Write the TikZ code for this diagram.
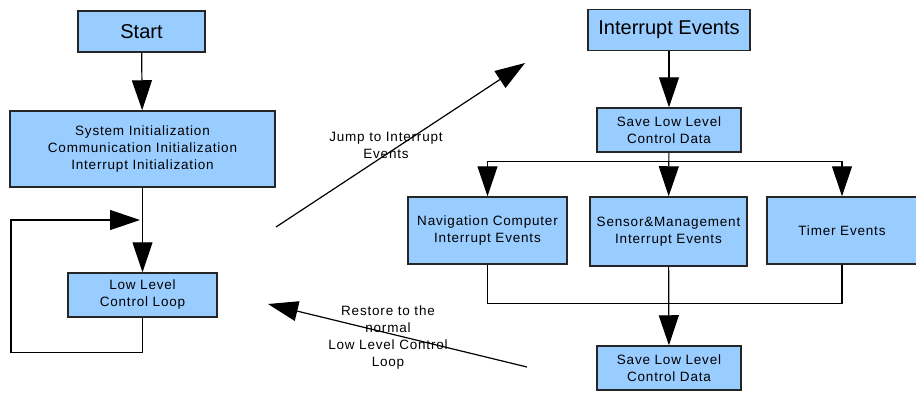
\documentclass[tikz,border=0pt]{standalone}
\usepackage{fontspec}
\setmainfont{Liberation Sans}
\newfontfamily\labelfont[LetterSpace=6]{Liberation Sans}
\usetikzlibrary{arrows.meta}
\definecolor{boxblue}{HTML}{99CCFF}
\tikzset{
>={Triangle[width=20pt,length=30pt]}, % big filled heads
box/.style={draw=black!85, fill=boxblue, line width=1.5pt, inner sep=0pt, align=center,
  font=\labelfont\fontsize{13.5}{17}\selectfont},
bigbox/.style={box, font=\fontsize{20}{22}\selectfont},
note/.style={align=center, font=\labelfont\fontsize{13.5}{17}\selectfont},
}

\begin{document}
\begin{tikzpicture}[x=1pt, y=-1pt, line width=1.2pt]
    \useasboundingbox (0,0) rectangle (916,392);

    % main program
    \node[bigbox, minimum width=127, minimum height=41] (start) at (141.5,31.5) {Start};
    \node[box, minimum width=265, minimum height=76] (init) at (142.5,149)
        {System Initialization\\Communication Initialization\\Interrupt Initialization};
    \node[box, minimum width=149, minimum height=44] (loop) at (142.5,295) {Low Level\\Control Loop};
    \coordinate (loopin) at (140,220);

    % interrupt side
    \node[bigbox, minimum width=162, minimum height=41] (irq) at (669,30) {Interrupt Events};
    \node[box, minimum width=144, minimum height=44] (save1) at (669,130) {Save Low Level\\Control Data};
    \node[box, minimum width=159, minimum height=67] (nav) at (487.5,230.5) {Navigation Computer\\Interrupt Events};
    \node[box, minimum width=157, minimum height=69] (sensor) at (668.5,231.5) {Sensor\&Management\\Interrupt Events};
    \node[box, minimum width=150, minimum height=67] (timer) at (842,230.5) {Timer Events};
    \node[box, minimum width=144, minimum height=44] (save2) at (669,368) {Save Low Level\\Control Data};

    % jump and return
    \coordinate (jumpfrom) at (276,227);
    \coordinate (jumpto) at (525,63);
    \coordinate (backfrom) at (527,367);
    \coordinate (backto) at (268,304);

    \draw[->] (start) -- (init);
    \draw[->] (init) -- (loop);
    \draw[->] (loop.south) -- ++(0,35) -| (11,250) |- (loopin);

    \draw[->] (irq) -- (save1);
    \draw[->] (save1) -- (sensor);
    \draw[->] (save1.south) ++(0,9) -| (nav.north);
    \draw[->] (save1.south) ++(0,9) -| (timer.north);
    \draw (nav.south) -- ++(0,39) -| (timer.south);
    \draw[->] (sensor) -- (save2);

    \draw[->] (jumpfrom) -- (jumpto);
    \draw[->] (backfrom) -- (backto);
    \node[note] (jumptext) at (386,145) {Jump to Interrupt\\Events};
    \node[note] (backtext) at (388,338) {Restore to the\\normal\\Low Level Control\\Loop};

\end{tikzpicture}
\end{document}
